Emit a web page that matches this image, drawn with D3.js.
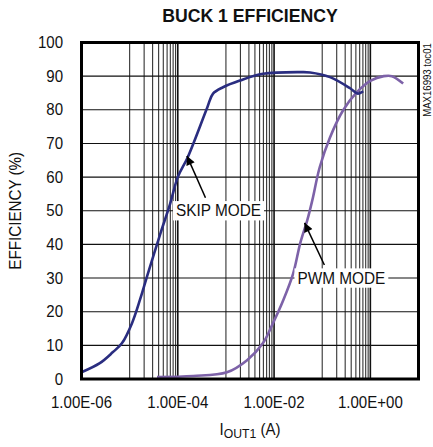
<!DOCTYPE html>
<html><head><meta charset="utf-8">
<script src="https://cdn.jsdelivr.net/npm/d3@7"></script>
<style>html,body{margin:0;padding:0;background:#fff;}svg{display:block;font-family:"Liberation Sans",Arial,sans-serif;}</style>
</head><body>
<svg id="c" width="433" height="447"></svg>
<script>
// ---- data ----
const title = "BUCK 1 EFFICIENCY";
const yLabel = "EFFICIENCY (%)";
const sideNote = "MAX16993 toc01";
const xTickValues = [1e-6, 1e-4, 1e-2, 1e0];
const xTickLabels = ["1.00E-06", "1.00E-04", "1.00E-02", "1.00E+00"];
const yTickValues = [0,10,20,30,40,50,60,70,80,90,100];
const gridMajor = [1e-4, 1e-2, 1e0];
const gridMinor = [1e-5,2e-5,3e-5,4e-5,5e-5,6e-5,7e-5,8e-5,9e-5,
                   1e-3,2e-3,3e-3,4e-3,5e-3,6e-3,7e-3,8e-3,9e-3,
                   1e-1,2e-1,3e-1,4e-1,5e-1,6e-1,7e-1,8e-1,9e-1];
const skipCurrent = [1.0e-6,2.4e-6,4.5e-6,6.9e-6,1.12e-5,1.66e-5,2.3e-5,4.3e-5,6.9e-5,1.0e-4,1.62e-4,4.1e-4,5.4e-4,8.7e-4,1.95e-3,5.9e-3,0.035,0.056,0.145,0.38,0.55,0.71];
const skipEff     = [2.0,4.7,8.0,10.6,16.6,23.8,30.5,43,52,60,66,80.7,84.8,86.7,88.7,90.7,91.2,91.1,89.7,86.4,84.8,85.5];
const pwmCurrent  = [3.7e-5,2.1e-4,1.05e-3,2.75e-3,5.9e-3,9.5e-3,0.0155,0.025,0.035,0.049,0.062,0.089,0.145,0.27,0.52,1.02,1.9,2.8,4.8];
const pwmEff      = [0.6,0.9,2.0,5.6,10.7,16.6,23.4,31.4,40.4,47.2,53,63,71.8,79.8,85.2,88.7,90,90,87.8];
const annotations = [
  {text:"SKIP MODE", lx:0.0007, ly:50, dx:-13, dy:-13, tx:1.55e-4, ty:66.3},
  {text:"PWM MODE",  lx:0.25,  ly:30, dx:-17, dy:-13, tx:0.043, ty:46.4}
];

// ---- layout ----
const svg = d3.select("#c");
const L = 81.5, R = 418.5, T = 42.5, B = 379;
const x = d3.scaleLog().domain([1e-6, 1e1]).range([L, R]);
const y = d3.scaleLinear().domain([0, 100]).range([B, T]);
const SX = 0.94;
function txt(g, s, px, py, size, anchor, opts) {
  opts = opts || {};
  const t = g.append("text")
    .attr("transform", `translate(${px},${py}) rotate(${opts.rot||0}) scale(${opts.sx||SX},1)`)
    .attr("text-anchor", anchor).attr("font-size", size)
    .attr("dominant-baseline", opts.base || "auto")
    .attr("font-weight", opts.bold ? "bold" : "normal").attr("fill", "#111");
  t.text(s);
  return t;
}

// grid
const grid = svg.append("g");
grid.selectAll("line.mn").data(gridMinor).join("line")
  .attr("x1", d=>x(d)).attr("x2", d=>x(d)).attr("y1", T).attr("y2", B)
  .attr("stroke", "#333").attr("stroke-width", 1.1);
grid.selectAll("line.mj").data(gridMajor).join("line")
  .attr("x1", d=>x(d)).attr("x2", d=>x(d)).attr("y1", T).attr("y2", B)
  .attr("stroke", "#111").attr("stroke-width", 1.6);
grid.selectAll("line.h").data(yTickValues).join("line")
  .attr("x1", L).attr("x2", R).attr("y1", d=>y(d)).attr("y2", d=>y(d))
  .attr("stroke", "#111").attr("stroke-width", 1.1);

// curves
const line = d3.line().x(d=>x(d[0])).y(d=>y(d[1])).curve(d3.curveCatmullRom.alpha(0.5));
const pwm = pwmCurrent.map((c,i)=>[c,pwmEff[i]]);
const skip = skipCurrent.map((c,i)=>[c,skipEff[i]]);
svg.append("path").attr("d", line(pwm)).attr("fill","none").attr("stroke","#7d62a8").attr("stroke-width",2.6);
svg.append("path").attr("d", line(skip)).attr("fill","none").attr("stroke","#2a2d80").attr("stroke-width",2.6);

// annotations
svg.append("defs").append("marker").attr("id","ah").attr("viewBox","0 0 10 10")
  .attr("refX",10).attr("refY",5).attr("markerWidth",11).attr("markerHeight",9)
  .attr("markerUnits","userSpaceOnUse").attr("orient","auto")
  .append("path").attr("d","M0,0 L10,5 L0,10 z").attr("fill","#000");
const ann = svg.append("g");
annotations.forEach(a=>{
  const t = txt(ann, a.text, x(a.lx), y(a.ly), 16, "middle", {base:"central", sx:0.96});
  const bb = t.node().getBBox();
  const w = bb.width*0.96 + 6, h = bb.height + 2;
  ann.insert("rect", "text").attr("x", x(a.lx)-w/2).attr("y", y(a.ly)-h/2).attr("width", w).attr("height", h).attr("fill","#fff");
});
annotations.forEach(a=>{
  ann.append("line").attr("x1", x(a.lx)+a.dx).attr("y1", y(a.ly)+a.dy)
    .attr("x2", x(a.tx)).attr("y2", y(a.ty)).attr("stroke","#000").attr("stroke-width",1.5)
    .attr("marker-end","url(#ah)");
});

// frame
svg.append("rect").attr("x", L).attr("y", T).attr("width", R-L).attr("height", B-T)
  .attr("fill","none").attr("stroke","#000").attr("stroke-width",3);

// tick labels
const tl = svg.append("g");
yTickValues.forEach(v=> txt(tl, String(v), 63, y(v), 16, "end", {base:"central"}));
xTickValues.forEach((v,i)=> txt(tl, xTickLabels[i], x(v), 402, 16, "middle", {base:"central"}));

// titles
txt(svg, title, 250, 22, 19, "middle", {bold:true, sx:0.93});
txt(svg, yLabel, 15, (T+B)/2, 16, "middle", {base:"central", rot:-90, sx:0.95});
txt(svg, sideNote, 427, 80, 10, "middle", {base:"central", rot:-90, sx:0.96});
const xl = svg.append("text").attr("transform","translate(250,435) scale(0.94,1)")
  .attr("text-anchor","middle").attr("font-size",16).attr("fill","#111");
xl.append("tspan").text("I");
xl.append("tspan").attr("font-size",13).attr("dy",3).text("OUT1");
xl.append("tspan").attr("dy",-3).text(" (A)");
</script>
</body></html>
